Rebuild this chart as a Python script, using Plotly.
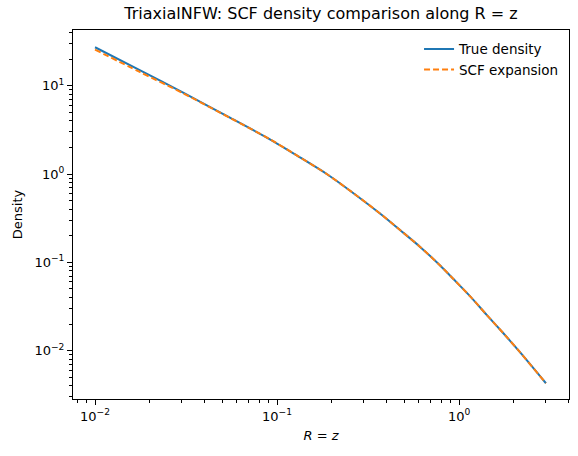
import plotly.graph_objects as go

# Values
r_vals = [0.01, 0.0176, 0.0305, 0.0551, 0.0914, 0.1337, 0.1875, 0.2685, 0.368, 0.474,
          0.611, 0.787, 0.931, 1.151, 1.422, 1.747, 2.167, 3.0]
true_density = [27.2, 15.0, 8.32, 4.34, 2.47, 1.542, 1.0, 0.587, 0.357, 0.232,
                0.1496, 0.0921, 0.0647, 0.0412, 0.0253, 0.01585, 0.00955, 0.00428]
scf_density = [25.6, 14.3, 8.20, 4.32, 2.47, 1.542, 1.0, 0.587, 0.357, 0.232,
               0.1496, 0.0921, 0.0647, 0.0412, 0.0253, 0.01585, 0.00955, 0.00428]

x_major = [0.01, 0.1, 1]
x_major_text = ["10<sup>−2</sup>", "10<sup>−1</sup>", "10<sup>0</sup>"]
y_major = [0.01, 0.1, 1, 10]
y_major_text = ["10<sup>−2</sup>", "10<sup>−1</sup>", "10<sup>0</sup>", "10<sup>1</sup>"]

def minors(decades):
    out = []
    for d in decades:
        for k in range(2, 10):
            out.append(k * d)
    return out

x_minor = minors([0.001, 0.01, 0.1, 1])
y_minor = minors([0.001, 0.01, 0.1, 1, 10])

fig = go.Figure()
fig.add_trace(go.Scatter(x=r_vals, y=true_density, mode="lines", name="True density",
                         line=dict(color="#1f77b4", width=2, shape="spline", smoothing=0.8)))
fig.add_trace(go.Scatter(x=r_vals, y=scf_density, mode="lines", name="SCF expansion",
                         line=dict(color="#ff7f0e", width=2, dash="6px,3px", shape="spline", smoothing=0.8)))

font = "DejaVu Sans"
fig.update_layout(
    width=578, height=456,
    margin=dict(l=73, r=9, t=30, b=57),
    paper_bgcolor="white", plot_bgcolor="white",
    font=dict(family=font, size=13, color="black"),
    title=dict(text="TriaxialNFW: SCF density comparison along R = z",
               x=(73 + 569) / 2 / 578, xanchor="center", y=1 - 13 / 456, yanchor="middle",
               font=dict(size=16, family=font, color="black")),
    legend=dict(x=0.99, xanchor="right", y=0.99, yanchor="top", bgcolor="rgba(0,0,0,0)",
                borderwidth=0, font=dict(size=13.5, family=font)),
    showlegend=True,
)
fig.update_xaxes(type="log", range=[-2.121, 0.604], showgrid=False, zeroline=False,
                 showline=True, linecolor="black", linewidth=1, mirror=True,
                 ticks="outside", ticklen=5, tickcolor="black",
                 tickvals=x_major, ticktext=x_major_text, tickfont=dict(size=13),
                 minor=dict(ticks="outside", ticklen=3, tickcolor="black", tickvals=x_minor, showgrid=False),
                 title=dict(text="<i>R</i> = <i>z</i>", font=dict(size=13), standoff=8))
fig.update_yaxes(type="log", range=[-2.547, 1.630], showgrid=False, zeroline=False,
                 showline=True, linecolor="black", linewidth=1, mirror=True,
                 ticks="outside", ticklen=5, tickcolor="black",
                 tickvals=y_major, ticktext=y_major_text, tickfont=dict(size=13),
                 minor=dict(ticks="outside", ticklen=3, tickcolor="black", tickvals=y_minor, showgrid=False),
                 title=dict(text="Density", font=dict(size=13), standoff=8))

fig.write_html("out.html")
